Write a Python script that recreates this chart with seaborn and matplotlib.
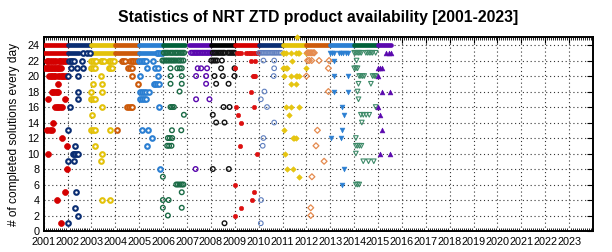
import numpy as np
import pandas as pd
import matplotlib
matplotlib.use("Agg")
import matplotlib.pyplot as plt
from matplotlib.ticker import MultipleLocator
import seaborn as sns

sns.set_theme(style="white")
plt.rcParams['font.family'] = ['Liberation Sans', 'DejaVu Sans']
plt.rcParams['text.color'] = 'black'
plt.rcParams['axes.labelcolor'] = 'black'
plt.rcParams['xtick.color'] = 'black'
plt.rcParams['ytick.color'] = 'black'

# ---------------- data ----------------
years = [2001, 2002, 2003, 2004, 2005, 2006, 2007, 2008,
         2009, 2010, 2011, 2012, 2013, 2014, 2015]
year_ticks = list(range(2001, 2024))
y_ticks = list(range(0, 25, 2))

# continuous (daily) availability at 24 solutions
band24_year = years
band24_start = [2001.02, 2002.0, 2003.0, 2004.0, 2005.0, 2006.0, 2007.08, 2008.0,
                2009.0, 2010.0, 2011.0, 2012.0, 2013.0, 2014.0, 2015.0]
band24_end = [2002.0, 2003.0, 2004.0, 2005.0, 2006.0, 2006.9, 2008.0, 2009.0,
              2010.0, 2011.0, 2012.0, 2013.0, 2014.0, 2015.0, 2015.55]

# continuous availability at 23 solutions
band23_year = [2001, 2002, 2003, 2004, 2005]
band23_start = [2001.02, 2002.0, 2003.0, 2004.0, 2005.0]
band23_end = [2002.0, 2002.48, 2004.0, 2005.0, 2005.6]

# individual days (number of solutions -> dates)
pts_2001 = {22: [2001.13, 2001.2, 2001.28, 2001.36, 2001.44, 2001.52, 2001.62, 2001.7, 2001.78, 2001.86, 2001.95],
            21: [2001.06, 2001.12, 2001.18, 2001.24, 2001.3, 2001.36, 2001.42, 2001.48, 2001.54, 2001.6, 2001.66, 2001.73],
            20: [2001.24, 2001.3, 2001.36, 2001.42, 2001.47, 2001.61, 2001.68, 2001.75, 2001.82, 2001.89, 2001.96],
            19: [2001.61], 18: [2001.33, 2001.4, 2001.47, 2001.54, 2001.61],
            17: [2001.2, 2001.89], 16: [2001.47, 2001.54, 2001.61, 2001.68, 2001.75],
            14: [2001.38], 13: [2001.15, 2001.25, 2001.33], 12: [2001.75], 11: [2001.96],
            10: [2001.2], 8: [2001.96], 5: [2001.89], 4: [2001.54], 1: [2001.71]}
pts_2002 = {23: [2002.63, 2002.8, 2002.94], 22: [2002.07, 2002.13, 2002.2, 2002.26, 2002.59],
            21: [2002.13, 2002.41, 2002.66], 20: [2002.03, 2002.45], 18: [2002.45], 17: [2002.45],
            16: [2002.1], 13: [2002.0], 11: [2002.31], 10: [2002.21, 2002.27, 2002.33, 2002.39, 2002.45],
            9: [2002.03, 2002.28], 5: [2002.35], 3: [2002.31], 2: [2002.42], 1: [2002.0]}
pts_2003 = {22: [2003.0, 2003.07, 2003.14, 2003.21, 2003.38, 2003.46, 2003.54, 2003.72, 2003.79, 2003.86, 2003.93],
            21: [2003.0, 2003.07, 2003.14, 2003.72, 2003.79, 2003.86], 20: [2003.38],
            19: [2003.08, 2003.43], 18: [2003.0, 2003.43], 17: [2003.0, 2003.07, 2003.14],
            16: [2003.43], 15: [2003.03], 13: [2003.0, 2003.07, 2003.14, 2003.78],
            11: [2003.15], 10: [2003.43], 9: [2003.4], 4: [2003.43, 2003.78]}
pts_2004 = {22: [2004.26, 2004.33, 2004.4, 2004.61, 2004.68, 2004.75, 2004.82, 2004.89],
            21: [2004.54, 2004.61, 2004.68], 20: [2004.68], 19: [2004.93],
            16: [2004.5, 2004.57, 2004.64, 2004.71], 13: [2004.05]}
pts_2005 = {23: [2005.73, 2005.8, 2005.87, 2005.94], 22: [2005.0, 2005.07, 2005.14, 2005.21, 2005.28, 2005.57],
            21: [2005.31, 2005.66, 2005.78], 20: [2005.03, 2005.78], 19: [2005.6, 2005.67, 2005.74, 2005.81],
            18: [2005.03, 2005.12, 2005.21, 2005.3, 2005.4], 17: [2005.03, 2005.12, 2005.21, 2005.3],
            16: [2005.82], 13: [2005.1, 2005.38], 12: [2005.52], 11: [2005.31], 8: [2005.85]}
pts_2006 = {23: [2006.03, 2006.09, 2006.15, 2006.21, 2006.3, 2006.36, 2006.42, 2006.5, 2006.56, 2006.62, 2006.7, 2006.76, 2006.82, 2006.88],
            22: [2005.97, 2006.04, 2006.11, 2006.18, 2006.25, 2006.32, 2006.39, 2006.46, 2006.53, 2006.62, 2006.69, 2006.76, 2006.85],
            21: [2006.31, 2006.59, 2006.7, 2006.78], 20: [2006.31, 2006.78], 19: [2006.31, 2006.78],
            18: [2006.69], 16: [2006.31, 2006.38, 2006.45], 15: [2006.87], 13: [2006.37, 2006.76],
            12: [2006.2, 2006.28, 2006.38], 11: [2006.17, 2006.25, 2006.35], 7: [2005.99],
            6: [2006.55, 2006.62, 2006.7, 2006.78, 2006.85], 5: [2006.78], 4: [2005.99, 2006.23],
            3: [2005.99, 2006.78], 2: [2006.2]}
pts_2007 = {23: [2007.17, 2007.23, 2007.3, 2007.36, 2007.42, 2007.48, 2007.55, 2007.62, 2007.68, 2007.75, 2007.82, 2007.88, 2007.95, 2008.02],
            21: [2007.45, 2007.59, 2007.84], 20: [2007.38, 2007.8], 19: [2007.8],
            17: [2007.38, 2007.94], 8: [2007.36]}
pts_2008 = {23: [2008.08, 2008.15, 2008.22, 2008.3, 2008.37, 2008.44, 2008.51, 2008.57, 2008.71, 2008.78, 2008.85, 2008.92, 2008.99],
            22: [2008.02, 2008.1, 2008.18, 2008.26, 2008.46], 21: [2008.43, 2008.99],
            20: [2008.15, 2008.5, 2008.99], 19: [2008.22, 2008.74], 16: [2008.53, 2008.78],
            15: [2008.08], 14: [2008.22, 2008.57], 8: [2008.08, 2008.75], 1: [2008.57]}
pts_2009 = {23: [2009.1, 2009.18, 2009.27, 2009.48, 2009.55, 2009.62, 2009.7, 2009.77, 2009.84, 2009.91, 2009.96],
            22: [2009.66, 2009.85], 21: [2009.0], 20: [2009.75, 2009.8, 2009.85], 18: [2009.66],
            16: [2009.06, 2009.82], 15: [2009.13], 14: [2009.24], 11: [2009.21], 10: [2009.95],
            6: [2009.0], 5: [2009.8], 4: [2009.73], 3: [2009.24], 2: [2009.03]}
pts_2010 = {23: [2010.02, 2010.1, 2010.18, 2010.27, 2010.35, 2010.43, 2010.52, 2010.6, 2010.68, 2010.76, 2010.85, 2010.93],
            22: [2010.2, 2010.65], 21: [2010.65], 20: [2010.63], 18: [2010.24], 17: [2010.09],
            16: [2010.35], 14: [2010.65], 12: [2010.2], 11: [2010.17], 4: [2010.1], 1: [2010.09]}
pts_2011 = {25: [2011.6], 23: [2011.0, 2011.07, 2011.14, 2011.35, 2011.56, 2011.63, 2011.7, 2011.98],
            22: [2011.39], 21: [2011.0, 2011.07, 2011.14, 2011.2, 2011.98],
            20: [2011.07, 2011.35, 2011.56, 2011.62, 2011.67], 19: [2011.35, 2011.56],
            16: [2011.14, 2011.35, 2011.7], 15: [2011.28], 13: [2011.07],
            12: [2011.42, 2011.5, 2011.58], 10: [2011.1], 8: [2011.17, 2011.45], 7: [2011.7]}
pts_2012 = {23: [2012.04, 2012.1, 2012.16, 2012.22, 2012.28, 2012.33],
            22: [2012.05, 2012.12, 2012.22, 2012.53, 2012.95], 21: [2012.92], 20: [2012.0],
            18: [2012.92], 13: [2012.46], 11: [2012.4], 9: [2012.74], 7: [2012.23],
            3: [2012.18], 2: [2012.18]}
pts_2013 = {23: [2012.98, 2013.07, 2013.16, 2013.37, 2013.45, 2013.55, 2013.64, 2013.72],
            22: [2013.16], 20: [2013.16, 2013.72], 18: [2013.16, 2013.72], 16: [2013.51],
            15: [2013.58], 13: [2013.51], 12: [2013.02, 2013.44], 8: [2013.58], 6: [2013.48]}
pts_2014 = {23: [2014.0, 2014.06, 2014.12, 2014.18, 2014.24, 2014.3, 2014.49, 2014.56, 2014.63, 2014.7, 2014.77, 2014.9],
            22: [2014.1], 21: [2014.0, 2014.07, 2014.14],
            20: [2014.21, 2014.28, 2014.35, 2014.42, 2014.77, 2014.84, 2014.9],
            19: [2014.18, 2014.7], 18: [2014.14], 17: [2014.18], 16: [2014.9],
            15: [2014.28, 2014.38, 2014.5, 2014.63], 14: [2014.32], 12: [2014.07],
            11: [2014.07, 2014.14, 2014.22, 2014.3], 10: [2014.07], 9: [2014.38, 2014.6, 2014.82],
            6: [2014.07, 2014.14, 2014.21]}
pts_2015 = {23: [2015.35, 2015.45, 2015.53], 21: [2015.0, 2015.1, 2015.18], 20: [2015.0],
            18: [2015.16, 2015.49], 16: [2015.0], 15: [2015.07], 13: [2015.16], 10: [2015.07, 2015.49]}

# ---------------- styles ----------------
band_colors = {2001: '#d40000', 2002: '#0a2d72', 2003: '#e3c20a', 2004: '#cc5a0a',
               2005: '#2b7fd2', 2006: '#00603a', 2007: '#5a08ae', 2008: '#000000',
               2009: '#d40000', 2010: '#0a2d72', 2011: '#e3c20a', 2012: '#cc5a0a',
               2013: '#2b7fd2', 2014: '#00603a', 2015: '#5a08ae'}
# (marker, face, edge colour, size, edge width)
styles = {2001: ('o', 'full', '#d40000', 18, 0.5),
          2002: ('o', 'white', '#0a2d72', 11, 1.5),
          2003: ('o', 'white', '#e3c20a', 11, 1.5),
          2004: ('o', 'white', '#cc5a0a', 11, 1.5),
          2005: ('o', 'white', '#2b7fd2', 11, 1.5),
          2006: ('o', 'none', '#1a6a45', 11, 1.0),
          2007: ('o', 'none', '#5a08ae', 11, 1.0),
          2008: ('o', 'none', '#111111', 11, 1.0),
          2009: ('o', 'full', '#dd1010', 10, 0.4),
          2010: ('o', 'none', '#5f7fbf', 11, 0.8),
          2011: ('D', 'full', '#e6c510', 8, 0.4),
          2012: ('D', 'none', '#e58a4e', 9, 0.9),
          2013: ('v', 'full', '#2b7fd2', 12, 0.4),
          2014: ('v', 'none', '#3d8a68', 11, 0.8),
          2015: ('^', 'full', '#5a08ae', 12, 0.4)}

all_pts = {2001: pts_2001, 2002: pts_2002, 2003: pts_2003, 2004: pts_2004, 2005: pts_2005,
           2006: pts_2006, 2007: pts_2007, 2008: pts_2008, 2009: pts_2009, 2010: pts_2010,
           2011: pts_2011, 2012: pts_2012, 2013: pts_2013, 2014: pts_2014, 2015: pts_2015}

rows = []
for yr, d in all_pts.items():
    for n, dates in d.items():
        for t in dates:
            rows.append((yr, t, n))
df = pd.DataFrame(rows, columns=['year', 'date', 'n'])

# ---------------- figure ----------------
fig = plt.figure(figsize=(6.12, 2.52), dpi=100)
ax = fig.add_axes([0.0714, 0.0833, 0.8976, 0.7687])

ax.set_xlim(2001, 2024)
ax.set_ylim(0, 25)
ax.set_xticks(year_ticks)
ax.set_xticklabels([str(y) for y in year_ticks])
ax.set_yticks(y_ticks)
ax.xaxis.set_minor_locator(MultipleLocator(1 / 12))
ax.grid(True, which='major', linestyle=(0, (1, 2.5)), color='#333333', linewidth=0.8)
ax.set_axisbelow(True)

for i, yr in enumerate(band24_year):
    ax.hlines(24, band24_start[i], band24_end[i], colors=band_colors[yr], linewidth=3.4,
              capstyle='round', zorder=3)
for i, yr in enumerate(band23_year):
    ax.hlines(23, band23_start[i], band23_end[i], colors=band_colors[yr], linewidth=3.4,
              capstyle='round', zorder=3)

for yr in years:
    sub = df[df['year'] == yr]
    if sub.empty:
        continue
    m, face, ec, s, lw = styles[yr]
    fc = ec if face == 'full' else face
    sns.scatterplot(data=sub, x='date', y='n', ax=ax, marker=m, s=s,
                    facecolor=fc, edgecolor=ec, linewidth=lw, legend=False,
                    zorder=4, clip_on=False if yr == 2011 else True)

ax.set_xlabel('')
ax.set_ylabel('# of completed solutions every day', fontsize=8.6, labelpad=5)
ax.set_title('Statistics of NRT ZTD product availability [2001-2023]',
             fontsize=11.3, fontweight='bold', pad=11, color='black')

ax.tick_params(axis='both', which='major', direction='in', length=4, width=0.8,
               top=True, right=True, labelsize=7.8, pad=3, colors='black')
ax.tick_params(axis='x', which='major', pad=4)
ax.tick_params(axis='x', which='minor', direction='in', length=2.5, width=0.6,
               top=True, bottom=True)
ax.tick_params(axis='y', which='minor', left=False, right=False)
for sp in ax.spines.values():
    sp.set_visible(True)
    sp.set_color('black')
    sp.set_linewidth(1.4)

fig.savefig('out.png', dpi=100)
